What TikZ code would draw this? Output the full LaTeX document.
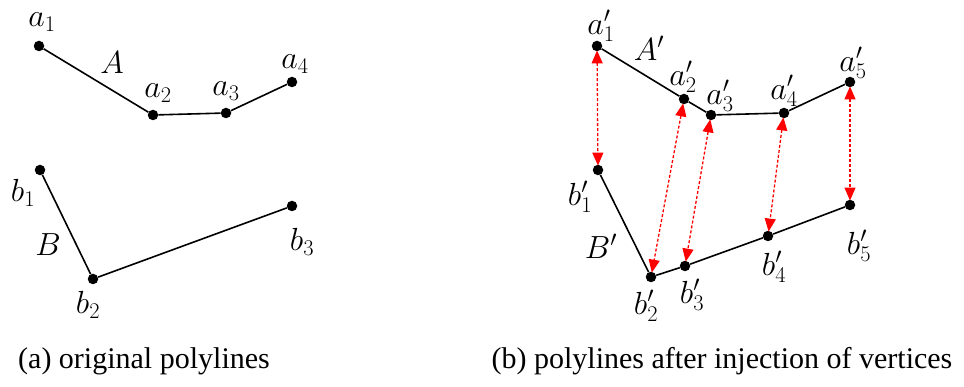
\RequirePackage{fix-cm}
\documentclass[tikz,border=0pt]{standalone}
\usepackage{fontspec}
\newfontfamily\capfont{Liberation Serif}
\usetikzlibrary{arrows.meta}
\begin{document}
\begin{tikzpicture}[x=1pt,y=-1pt,
  dot/.style={circle,fill=black,inner sep=0pt,minimum size=10.5pt},
  lbl/.style={inner sep=0pt,font=\fontsize{32}{36}\selectfont},
  poly/.style={line width=1.6pt,black},
  link/.style={red,line width=1.3pt,dash pattern=on 3pt off 2pt,{Triangle[length=13pt,width=11pt]}-{Triangle[length=13pt,width=11pt]},shorten <=-1pt,shorten >=-1pt},
  captext/.style={inner sep=0pt,font=\capfont\fontsize{30}{34}\selectfont}]
\useasboundingbox (0,0) rectangle (964,387);
% (a) original
\node[dot] (a1) at (39,46) {};
\node[dot] (a2) at (153,115) {};
\node[dot] (a3) at (226,113) {};
\node[dot] (a4) at (292,82) {};
\node[dot] (b1) at (40,170) {};
\node[dot] (b2) at (93,279) {};
\node[dot] (b3) at (292,206) {};
\draw[poly] (a1) -- (a2) -- (a3) -- (a4);
\draw[poly] (b1) -- (b2) -- (b3);
\node[lbl] (la1) at (42,22) {$a_1$};
\node[lbl] (lA) at (112,63) {$A$};
\node[lbl] (la2) at (158,93) {$a_2$};
\node[lbl] (la3) at (226,91) {$a_3$};
\node[lbl] (la4) at (295,64) {$a_4$};
\node[lbl] (lb1) at (23,193) {$b_1$};
\node[lbl] (lB) at (48,245) {$B$};
\node[lbl] (lb2) at (88,305) {$b_2$};
\node[lbl] (lb3) at (302,242) {$b_3$};
% (b) after injection
\node[dot] (p1) at (597,46) {};
\node[dot] (p2) at (684,99) {};
\node[dot] (p3) at (711,115) {};
\node[dot] (p4) at (784,113) {};
\node[dot] (p5) at (850,82) {};
\node[dot] (q1) at (598,170) {};
\node[dot] (q2) at (651,277) {};
\node[dot] (q3) at (685,266) {};
\node[dot] (q4) at (768,236) {};
\node[dot] (q5) at (850,205) {};
\draw[poly] (p1) -- (p2) -- (p3) -- (p4) -- (p5);
\draw[poly] (q1) -- (q2) -- (q3) -- (q4) -- (q5);
\draw[link] (p1) -- (q1);
\draw[link] (p2) -- (q2);
\draw[link] (p3) -- (q3);
\draw[link] (p4) -- (q4);
\draw[link] (p5) -- (q5);
\node[lbl] (lp1) at (601,26) {$a'_1$};
\node[lbl] (lAp) at (649,48) {$A'$};
\node[lbl] (lp2) at (683,77) {$a'_2$};
\node[lbl] (lp3) at (720,96) {$a'_3$};
\node[lbl] (lp4) at (784,91) {$a'_4$};
\node[lbl] (lp5) at (853,63) {$a'_5$};
\node[lbl] (lq1) at (580,197) {$b'_1$};
\node[lbl] (lBp) at (601,246) {$B'$};
\node[lbl] (lq2) at (646,306) {$b'_2$};
\node[lbl] (lq3) at (692,295) {$b'_3$};
\node[lbl] (lq4) at (774,267) {$b'_4$};
\node[lbl] (lq5) at (859,246) {$b'_5$};
% captions
\node[captext] (ca) at (144,361) {(a) original polylines};
\node[captext] (cb) at (722,361) {(b) polylines after injection of vertices};
\end{tikzpicture}
\end{document}
